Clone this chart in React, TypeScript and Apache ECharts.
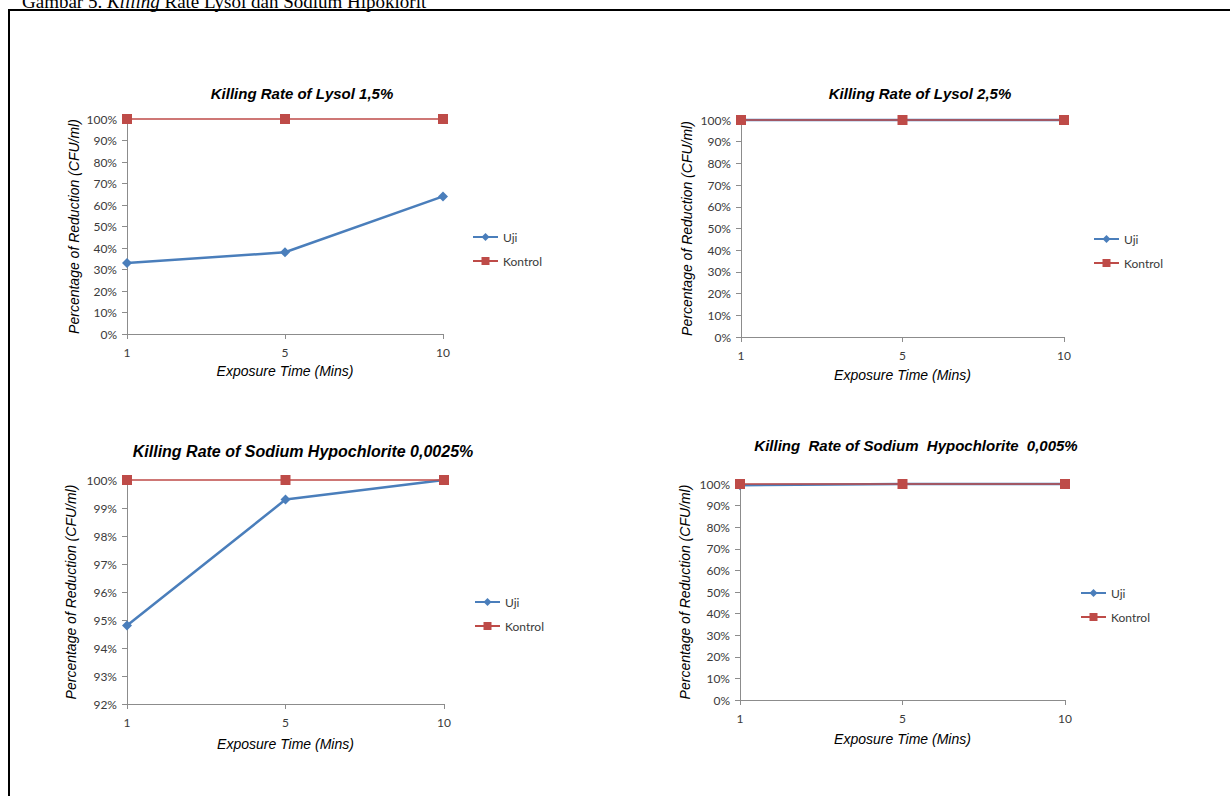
import React, { useEffect, useRef } from "react";
import * as echarts from "echarts";

const exposureTimes = ["1", "5", "10"];
const seriesNames = ["Uji", "Kontrol"];

const lysol15Uji = [33, 38, 64];
const lysol15Kontrol = [100, 100, 100];
const lysol25Uji = [100, 100, 100];
const lysol25Kontrol = [100, 100, 100];
const naocl0025Uji = [94.8, 99.3, 100];
const naocl0025Kontrol = [100, 100, 100];
const naocl005Uji = [99.4, 100, 100];
const naocl005Kontrol = [100, 100, 100];

const chartTitles = [
  "Killing Rate of Lysol 1,5%",
  "Killing Rate of Lysol 2,5%",
  "Killing Rate of Sodium Hypochlorite 0,0025%",
  "Killing  Rate of Sodium  Hypochlorite  0,005%",
];
const yAxisName = "Percentage of Reduction (CFU/ml)";
const xAxisName = "Exposure Time (Mins)";
const yRanges = [
  [0, 100, 10],
  [0, 100, 10],
  [92, 100, 1],
  [0, 100, 10],
];
const ujiData = [lysol15Uji, lysol25Uji, naocl0025Uji, naocl005Uji];
const kontrolData = [lysol15Kontrol, lysol25Kontrol, naocl0025Kontrol, naocl005Kontrol];

// layout
const grids = [
  { left: 127, top: 119, width: 316, height: 215 },
  { left: 741, top: 120, width: 323, height: 217 },
  { left: 127, top: 480, width: 317, height: 224 },
  { left: 740, top: 484, width: 325, height: 216 },
];
const titlePos = [
  { x: 302, y: 86, size: 15 },
  { x: 920, y: 86, size: 15 },
  { x: 303, y: 443, size: 16 },
  { x: 916, y: 438, size: 15 },
];
const yNameGap = [46, 47, 49, 48];
const xNameGap = [30, 31, 33, 32];
const legendPos = [
  { left: 472, top: 231 },
  { left: 1093, top: 233 },
  { left: 474, top: 596 },
  { left: 1080, top: 587 },
];

const BLUE = "#4A7EBB";
const RED = "#BE4B48";
const AXIS = "#8C8C8C";
const LABEL = "#3A3A3A";
const SANS = "'Liberation Sans', Arial, sans-serif";
const LABELFONT = "Lato, 'Noto Sans', sans-serif";

export default function App() {
  const ref = useRef<HTMLDivElement>(null);
  useEffect(() => {
    if (!ref.current) return;
    const chart = echarts.init(ref.current, null, { renderer: "svg" });
    const option: any = {
      animation: false,
      backgroundColor: "#ffffff",
      title: chartTitles.map((t, i) => ({
        text: t,
        left: titlePos[i].x,
        top: titlePos[i].y,
        textAlign: "center",
        padding: 0,
        textStyle: {
          fontFamily: SANS,
          fontSize: titlePos[i].size,
          fontWeight: "bold",
          fontStyle: "italic",
          color: "#000",
        },
      })),
      legend: legendPos.map((p) => ({
        data: seriesNames,
        orient: "vertical",
        left: p.left,
        top: p.top,
        itemWidth: 25,
        itemHeight: 10,
        itemGap: 12,
        padding: 0,
        selectedMode: false,
        textStyle: { fontFamily: LABELFONT, fontSize: 12, color: LABEL },
      })),
      grid: grids.map((g) => ({ ...g, containLabel: false })),
      xAxis: grids.map((_, i) => ({
        type: "category",
        gridIndex: i,
        data: exposureTimes,
        boundaryGap: false,
        name: xAxisName,
        nameLocation: "middle",
        nameGap: xNameGap[i],
        nameTextStyle: { fontFamily: SANS, fontSize: 14, fontStyle: "italic", color: "#000" },
        axisLine: { lineStyle: { color: AXIS, width: 1 } },
        axisTick: { show: true, length: 5, lineStyle: { color: AXIS } },
        axisLabel: { margin: 12, fontFamily: LABELFONT, fontSize: 12, color: LABEL },
        splitLine: { show: false },
      })),
      yAxis: grids.map((_, i) => ({
        type: "value",
        gridIndex: i,
        min: yRanges[i][0],
        max: yRanges[i][1],
        interval: yRanges[i][2],
        name: yAxisName,
        nameLocation: "middle",
        nameGap: yNameGap[i],
        nameTextStyle: { fontFamily: SANS, fontSize: 14, fontStyle: "italic", color: "#000" },
        axisLine: { show: true, lineStyle: { color: AXIS, width: 1 } },
        axisTick: { show: true, length: 5, lineStyle: { color: AXIS } },
        axisLabel: { margin: 10, fontFamily: LABELFONT, fontSize: 12, color: LABEL, formatter: "{value}%" },
        splitLine: { show: false },
      })),
      series: grids.flatMap((_, i) => [
        {
          name: "Uji",
          type: "line",
          xAxisIndex: i,
          yAxisIndex: i,
          data: ujiData[i],
          symbol: "diamond",
          symbolSize: 10,
          clip: false,
          lineStyle: { color: BLUE, width: 2.5 },
          itemStyle: { color: BLUE },
        },
        {
          name: "Kontrol",
          type: "line",
          xAxisIndex: i,
          yAxisIndex: i,
          data: kontrolData[i],
          symbol: "rect",
          symbolSize: 10,
          clip: false,
          lineStyle: { color: RED, width: 1.5 },
          itemStyle: { color: RED },
        },
      ]),
      graphic: [
        {
          type: "text",
          left: 22,
          top: -8,
          style: {
            text: "Gambar 5. {i|Killing} Rate Lysol dan Sodium Hipoklorit",
            fontFamily: "'Liberation Serif', 'Times New Roman', serif",
            fontSize: 19,
            fill: "#000",
            rich: {
              i: { fontStyle: "italic", fontFamily: "'Liberation Serif', serif", fontSize: 19 },
            },
          },
        },
        { type: "line", shape: { x1: 8, y1: 10, x2: 1230, y2: 10 }, style: { stroke: "#000", lineWidth: 2 } },
        { type: "line", shape: { x1: 9, y1: 9, x2: 9, y2: 796 }, style: { stroke: "#000", lineWidth: 2 } },
      ],
    };
    chart.setOption(option);
    return () => chart.dispose();
  }, []);
  return (
    <div
      ref={ref}
      style={{ position: "fixed", left: 0, top: 0, width: 1230, height: 796, background: "#fff" }}
    />
  );
}
